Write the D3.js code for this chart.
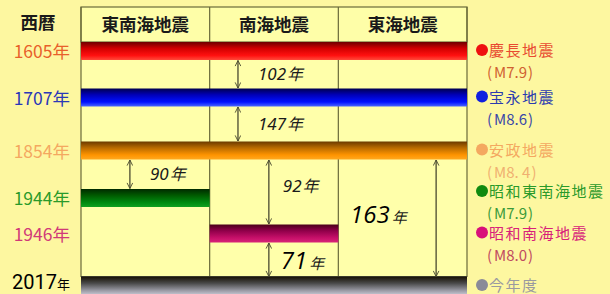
<!DOCTYPE html>
<html><head><meta charset="utf-8">
<script src="https://cdn.jsdelivr.net/npm/d3@7/dist/d3.min.js"></script>
<style>
html,body{margin:0;padding:0;background:#fdf7a0;}
svg{display:block;font-family:"Noto Sans CJK JP","Noto Sans",sans-serif;}
</style></head>
<body>
<svg id="c" width="610" height="294"></svg>
<script>
// ---- data ----
const columns = ["東南海地震", "南海地震", "東海地震"];
const events = ["慶長地震", "宝永地震", "安政地震", "昭和東南海地震", "昭和南海地震", "今年度"];
const years = [1605, 1707, 1854, 1944, 1946, 2017];
const magnitudes = ["M7.9", "M8.6", "M8. 4", "M7.9", "M8.0", null];
// columns covered by each event bar [first, last]
const spanFrom = [0, 0, 0, 0, 1, 0];
const spanTo   = [2, 2, 2, 0, 1, 2];
// intervals between events
const intervalFrom = [1605, 1707, 1854, 1854, 1946, 1854];
const intervalTo   = [1707, 1854, 1944, 1946, 2017, 2017];
const intervalCol  = [1, 1, 0, 1, 1, 2];
const intervalYears = [102, 147, 90, 92, 71, 163];

// ---- styles ----
const barColors = [
  ["#6e0000", "#d00000", "#ff1010", "#ff4a3a"],
  ["#00004e", "#0000b8", "#0010ff", "#4a66ff"],
  ["#6a3a00", "#b86a00", "#ff9400", "#ffa820"],
  ["#002a00", "#005a00", "#008a10", "#10a020"],
  ["#4a0018", "#90004a", "#c8106a", "#d82478"],
  ["#1a1408", "#4a4a4a", "#9a9aa4", "#c8c8d4"]
];
const yearColors = ["#e8602a", "#2a38b8", "#f4a860", "#2a9a2a", "#d03a78", "#000000"];
const legendColors = ["#e84a30", "#2a3ab0", "#f4a860", "#2a9a2a", "#d8207a", "#9a9aa0"];
const dotColors = ["#ee1010", "#1020e0", "#f4a860", "#108a10", "#d8107a", "#8a8a98"];
const magColors = ["#d06030", "#3a48a8", "#f0b070", "#3a9a3a", "#c04a60", null];
const arrowOffset = [0.22, 0.22, 0.38, 0.46, 0.46, 0.76];
const labelDX = [20, 20, 20, 14, 12, -86];
const labelYFrac = [0.5, 0.5, 0.5, 0.4, 0.55, 0.47];
const legendDY = [0, 0, 0, -6, 0, 0];

const svg = d3.select("#c");
const left = 81, right = 467, headTop = 7, headBot = 42, barH = 18;

const x = d3.scaleBand().domain(d3.range(columns.length)).range([left, right]).paddingInner(0).paddingOuter(0);
const y = d3.scaleLinear().domain(years).range([51, 97.5, 150.5, 198, 233.5, 286]);

// gradients
const defs = svg.append("defs");
barColors.forEach((cs, i) => {
  const g = defs.append("linearGradient").attr("id", "g" + i).attr("x1", 0).attr("x2", 0).attr("y1", 0).attr("y2", 1);
  [0, 0.35, 0.75, 1].forEach((o, k) => g.append("stop").attr("offset", o).attr("stop-color", cs[k]));
});
const mk = defs.append("marker").attr("id", "ah").attr("viewBox", "0 0 10 10").attr("refX", 9).attr("refY", 5)
  .attr("markerWidth", 7).attr("markerHeight", 7).attr("orient", "auto-start-reverse").attr("markerUnits", "userSpaceOnUse");
mk.append("path").attr("d", "M1,1 L9,5 L1,9").attr("fill", "none").attr("stroke", "#4a4a30").attr("stroke-width", 1.3);

// table background
svg.append("rect").attr("x", left).attr("y", headTop).attr("width", right - left).attr("height", 294 - headTop)
  .attr("fill", "#ffffaa");
// header
svg.append("rect").attr("x", left).attr("y", headTop).attr("width", right - left).attr("height", headBot - headTop)
  .attr("fill", "#fefea8").attr("stroke", "#6a6a3a").attr("stroke-width", 1.2);
svg.selectAll(".hd").data(columns).join("text")
  .attr("x", (d, i) => x(i) + x.bandwidth() / 2).attr("y", 31)
  .attr("text-anchor", "middle").attr("font-size", 17.5).attr("font-weight", "bold").attr("fill", "#1a1a1a").text(d => d);
// vertical grid lines
const vx = [left, x(1), x(2), right];
svg.selectAll(".vl").data(vx).join("line")
  .attr("x1", d => d).attr("x2", d => d).attr("y1", headTop).attr("y2", y(2017) - barH / 2)
  .attr("stroke", "#6a6a3a").attr("stroke-width", 1.2);
svg.append("line").attr("x1", left).attr("x2", right).attr("y1", y(2017) - barH / 2 - 0.5).attr("y2", y(2017) - barH / 2 - 0.5)
  .attr("stroke", "#3a3a2a").attr("stroke-width", 1);

// header label
svg.append("text").attr("x", 38).attr("y", 29).attr("text-anchor", "middle").attr("font-size", 17.5)
  .attr("font-weight", "bold").attr("fill", "#1a1a1a").text("西暦");

// bars
svg.selectAll(".bar").data(events).join("rect")
  .attr("x", (d, i) => x(spanFrom[i]))
  .attr("width", (d, i) => x(spanTo[i]) + x.bandwidth() - x(spanFrom[i]))
  .attr("y", (d, i) => y(years[i]) - barH / 2)
  .attr("height", barH)
  .attr("fill", (d, i) => `url(#g${i})`);

// year labels
years.forEach((yr, i) => {
  const t = svg.append("text").attr("x", 70).attr("text-anchor", "end")
    .attr("y", y(yr) + 7).attr("fill", yearColors[i]);
  if (i === years.length - 1) {
    t.attr("y", 289);
    t.append("tspan").attr("font-size", 20).attr("font-family", "Roboto, 'Noto Sans', sans-serif").text(yr);
    t.append("tspan").attr("font-size", 13).text("年");
  } else {
    t.attr("font-size", 17.5).text(yr + "年");
  }
});

// interval arrows
intervalYears.forEach((v, i) => {
  const xa = x(intervalCol[i]) + x.bandwidth() * arrowOffset[i];
  const y1 = y(intervalFrom[i]) + barH / 2 + 0.5, y2 = y(intervalTo[i]) - barH / 2 - 0.5;
  svg.append("line").attr("x1", xa).attr("x2", xa).attr("y1", y1).attr("y2", y2)
    .attr("stroke", "#4a4a30").attr("stroke-width", 1.3)
    .attr("marker-start", "url(#ah)").attr("marker-end", "url(#ah)");
  const big = (v === 71 || v === 163);
  const ty = y1 + (y2 - y1) * labelYFrac[i] + (big ? 8 : 6);
  const t = svg.append("text").attr("x", xa + labelDX[i]).attr("y", ty).attr("font-style", "italic").attr("fill", "#1a1a1a");
  if (big) {
    t.append("tspan").attr("font-size", 24).attr("font-family", "'Open Sans', 'Noto Sans', sans-serif").attr("fill", "#000").text(v);
    t.append("tspan").attr("font-size", 15).attr("dx", 2).text("年");
  } else {
    t.append("tspan").attr("font-size", 17).attr("font-family", "'Noto Sans', sans-serif").text(v);
    t.append("tspan").attr("font-size", 16).attr("dx", 1).text("年");
  }
});

// legend
events.forEach((e, i) => {
  const ly = y(years[i]) + legendDY[i];
  svg.append("circle").attr("cx", 482).attr("cy", ly - 1).attr("r", 6).attr("fill", dotColors[i]);
  svg.append("text").attr("x", 489).attr("y", ly + 5).attr("font-size", 15).attr("letter-spacing", 1.5)
    .attr("fill", legendColors[i]).text(e);
  if (magnitudes[i]) {
    const mt = svg.append("text").attr("x", 487).attr("y", ly + 27).attr("font-size", 15)
      .attr("fill", magColors[i]);
    mt.append("tspan").text("(");
    mt.append("tspan").attr("dx", 2).text(magnitudes[i]);
    mt.append("tspan").attr("dx", 1).text(")");
  }
});
</script>
</body></html>
